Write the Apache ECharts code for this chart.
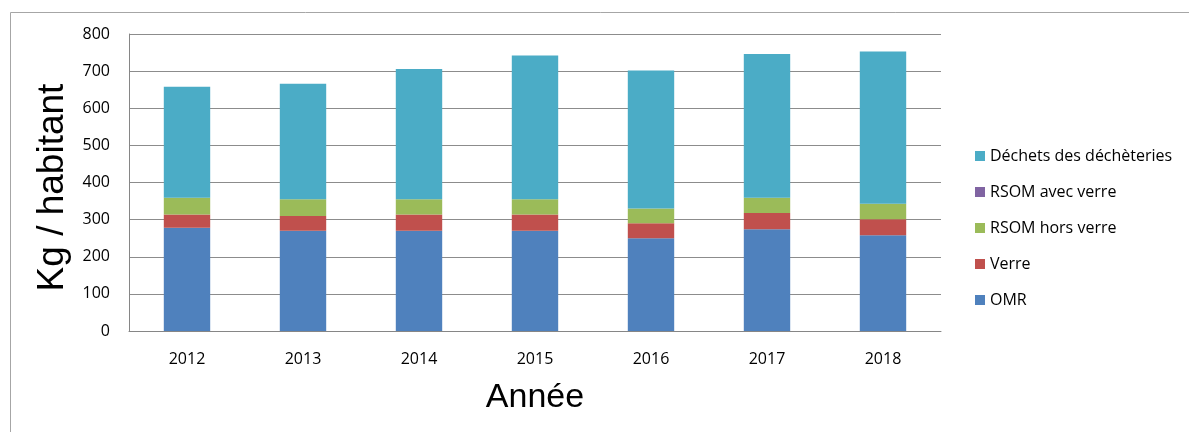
<!DOCTYPE html>
<html>
<head>
<meta charset="utf-8">
<script src="https://cdn.jsdelivr.net/npm/echarts@6/dist/echarts.min.js"></script>
<style>
    html, body { margin: 0; padding: 0; background: #fff; }
    #chart { width: 1189px; height: 432px; }
</style>
</head>
<body>
<div id="chart"></div>
<script>
// tonnages par habitant
var annees = ['2012', '2013', '2014', '2015', '2016', '2017', '2018'];
var omr = [278, 270, 270, 270, 250, 274, 258];
var verre = [36, 40, 44, 44, 40, 44, 43];
var rsomHorsVerre = [45, 45, 41, 41, 40, 41, 42];
var rsomAvecVerre = [0, 0, 0, 0, 0, 0, 0];
var dechetteries = [299, 311, 351, 387, 372, 387, 410];
var yTicks = { min: 0, max: 800, interval: 100 };

(function () {
    var myChart = echarts.init(document.getElementById('chart'));

    var labelFont = '"Open Sans", sans-serif';
    var titleFont = '"Liberation Sans", Arial, sans-serif';

    function serie(name, data, color) {
        return {
            name: name,
            type: 'bar',
            stack: 'total',
            barWidth: '40%',
            data: data,
            itemStyle: { color: color },
            emphasis: { disabled: true }
        };
    }

    var option = {
        animation: false,
        graphic: [{
            type: 'rect',
            shape: { x: 10.5, y: 12.5, width: 1200, height: 440 },
            style: { fill: 'none', stroke: '#a6a6a6', lineWidth: 1 }
        }],
        legend: {
            orient: 'vertical',
            left: 970,
            top: 142,
            itemWidth: 10,
            itemHeight: 10,
            itemGap: 18,
            icon: 'rect',
            textStyle: {
                fontFamily: labelFont,
                fontSize: 16,
                lineHeight: 18,
                color: '#000'
            },
            data: ['Déchets des déchèteries', 'RSOM avec verre', 'RSOM hors verre', 'Verre', 'OMR']
        },
        grid: {
            left: 129,
            right: 248,
            top: 34,
            bottom: 101
        },
        xAxis: {
            type: 'category',
            data: annees,
            name: 'Année',
            nameLocation: 'middle',
            nameGap: 50,
            nameTextStyle: {
                fontFamily: titleFont,
                fontSize: 34,
                color: '#000'
            },
            axisLine: { lineStyle: { color: '#868686', width: 1 } },
            axisTick: { show: false },
            axisLabel: {
                fontFamily: labelFont,
                fontSize: 16,
                color: '#000',
                margin: 20
            }
        },
        yAxis: {
            type: 'value',
            min: yTicks.min,
            max: yTicks.max,
            interval: yTicks.interval,
            name: 'Kg / habitant',
            nameLocation: 'middle',
            nameGap: 50,
            nameTextStyle: {
                fontFamily: titleFont,
                fontSize: 37,
                color: '#000',
                padding: [0, 10, 0, 0]
            },
            axisLine: { show: true, lineStyle: { color: '#868686', width: 1 } },
            axisTick: { show: false },
            axisLabel: {
                fontFamily: labelFont,
                fontSize: 16,
                color: '#000',
                margin: 19
            },
            splitLine: { lineStyle: { color: '#8c8c8c', width: 1 } }
        },
        series: [
            serie('OMR', omr, '#4f81bd'),
            serie('Verre', verre, '#c0504d'),
            serie('RSOM hors verre', rsomHorsVerre, '#9bbb59'),
            serie('RSOM avec verre', rsomAvecVerre, '#8064a2'),
            serie('Déchets des déchèteries', dechetteries, '#4bacc6')
        ]
    };
    myChart.setOption(option);
    window.addEventListener('resize', function () {
        myChart.resize();
    })
})();
</script>
</body>
</html>
